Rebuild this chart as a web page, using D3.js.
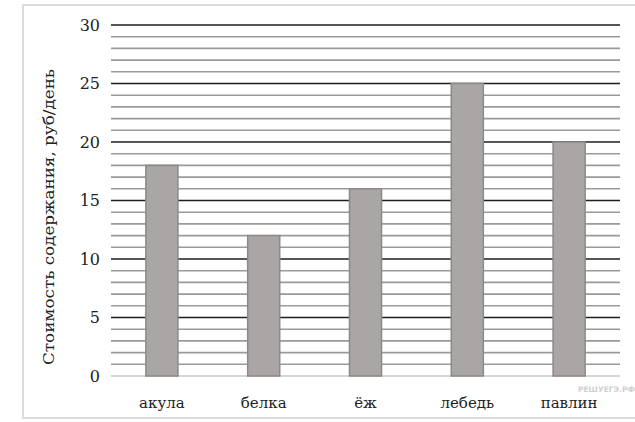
<!DOCTYPE html>
<html>
<head>
<meta charset="utf-8">
<script src="https://cdn.jsdelivr.net/npm/d3@7"></script>
<style>
  body { margin: 0; background: #fff; }
</style>
</head>
<body>
<div id="chart"></div>
<script>
  // data
  var animals = ["акула", "белка", "ёж", "лебедь", "павлин"];
  var costs = [18, 12, 16, 25, 20];
  var yTicks = [0, 5, 10, 15, 20, 25, 30];
  var yMinor = d3.range(1, 30);

  var svg = d3.select("#chart")
      .append("svg")
      .attr("width", 635)
      .attr("height", 422);

  // light frame around the picture
  svg.append("rect")
      .attr("x", 23)
      .attr("y", 5)
      .attr("width", 640)
      .attr("height", 413)
      .attr("fill", "none")
      .attr("stroke", "#dcdcdc")
      .attr("stroke-width", 2);

  var x = d3.scaleBand()
      .domain(animals)
      .range([111, 620])
      .paddingInner(0.685)
      .paddingOuter(0.3425);

  var y = d3.scaleLinear()
      .domain([0, 30])
      .range([376, 25]);

  // minor grid lines
  svg.append("g")
      .selectAll("line")
      .data(yMinor.filter(function (d) { return d % 5 != 0; }))
      .enter()
      .append("line")
      .attr("x1", 111)
      .attr("x2", 620)
      .attr("y1", function (d) { return y(d); })
      .attr("y2", function (d) { return y(d); })
      .attr("stroke", "#9a9a9a")
      .attr("stroke-width", 1.6);

  // major grid lines
  svg.append("g")
      .selectAll("line")
      .data(yTicks)
      .enter()
      .append("line")
      .attr("x1", 111)
      .attr("x2", 620)
      .attr("y1", function (d) { return y(d); })
      .attr("y2", function (d) { return y(d); })
      .attr("stroke", function (d) { return d == 0 ? "#c8c8c8" : "#1e1e1e"; })
      .attr("stroke-width", 1.6);

  // bars
  svg.append("g")
      .selectAll("rect")
      .data(costs)
      .enter()
      .append("rect")
      .attr("x", function (d, i) { return x(animals[i]); })
      .attr("y", function (d) { return y(d); })
      .attr("width", x.bandwidth())
      .attr("height", function (d) { return y(0) - y(d); })
      .attr("fill", "#aaa6a6")
      .attr("stroke", "#8c8989")
      .attr("stroke-width", 1.5);

  // y axis labels
  var yAxis = svg.append("g")
      .attr("transform", "translate(100,0)")
      .call(d3.axisLeft(y).tickValues(yTicks).tickSize(0).tickPadding(0));
  yAxis.select(".domain").remove();
  yAxis.attr("font-family", "DejaVu Serif").attr("font-size", 16);
  yAxis.selectAll("text").attr("fill", "#222");

  // x axis labels
  var xAxis = svg.append("g")
      .attr("transform", "translate(0,397)")
      .call(d3.axisBottom(x).tickSize(0).tickPadding(0));
  xAxis.select(".domain").remove();
  xAxis.attr("font-family", "DejaVu Serif").attr("font-size", 15);
  xAxis.selectAll("text").attr("fill", "#222");

  // axis title
  svg.append("text")
      .attr("transform", "translate(54,217) rotate(-90)")
      .attr("text-anchor", "middle")
      .attr("font-family", "DejaVu Serif")
      .attr("font-size", 15)
      .attr("textLength", 296)
      .attr("lengthAdjust", "spacingAndGlyphs")
      .attr("fill", "#222")
      .text("Стоимость содержания, руб/день");

  // watermark
  svg.append("text")
      .attr("x", 578)
      .attr("y", 392)
      .attr("font-family", "DejaVu Sans")
      .attr("font-size", 7.5)
      .attr("font-weight", "bold")
      .attr("fill", "#d0d0d0")
      .text("РЕШУЕГЭ.РФ");
</script>
</body>
</html>
